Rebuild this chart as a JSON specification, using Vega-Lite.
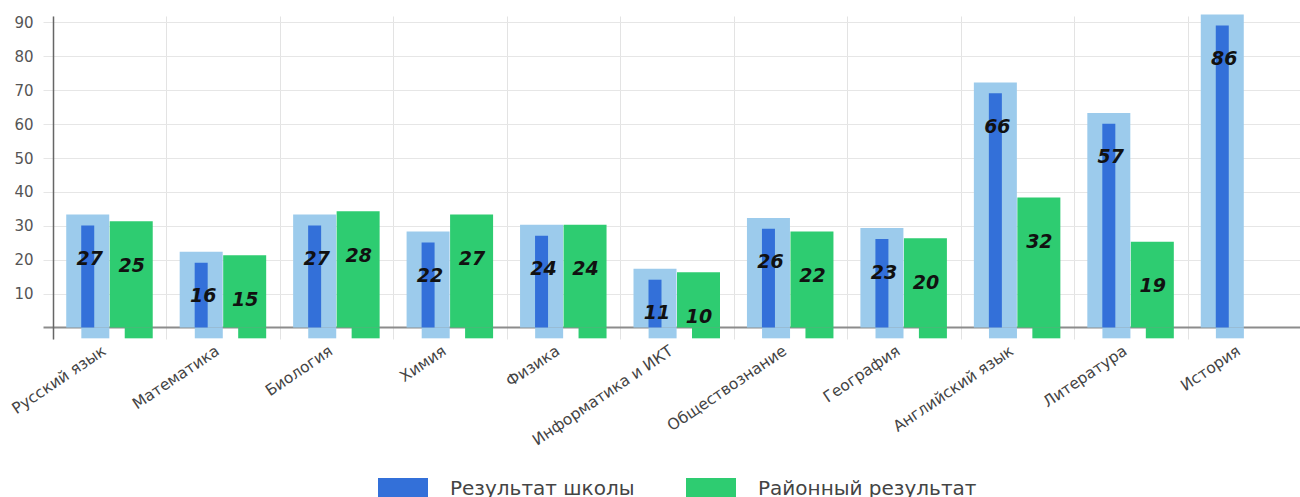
{
  "$schema": "https://vega.github.io/schema/vega-lite/v6.json",
  "width": 1248,
  "height": 323,
  "autosize": "none",
  "padding": {"left": 53, "top": 16, "right": 0, "bottom": 158},
  "background": "white",
  "config": {"view": {"stroke": null}, "font": "DejaVu Sans"},
  "data": {
    "values": [
      {"subject": "Русский язык", "school": 27, "district": 25},
      {"subject": "Математика", "school": 16, "district": 15},
      {"subject": "Биология", "school": 27, "district": 28},
      {"subject": "Химия", "school": 22, "district": 27},
      {"subject": "Физика", "school": 24, "district": 24},
      {"subject": "Информатика и ИКТ", "school": 11, "district": 10},
      {"subject": "Обществознание", "school": 26, "district": 22},
      {"subject": "География", "school": 23, "district": 20},
      {"subject": "Английский язык", "school": 66, "district": 32},
      {"subject": "Литература", "school": 57, "district": 19},
      {"subject": "История", "school": 86, "district": null}
    ]
  },
  "encoding": {
    "x": {
      "field": "subject",
      "type": "nominal",
      "sort": null,
      "scale": {"paddingInner": 0, "paddingOuter": 0},
      "axis": {
        "title": null,
        "labelAngle": -34,
        "tickBand": "extent",
        "grid": true,
        "gridColor": "#e3e3e3",
        "gridWidth": 1,
        "ticks": false,
        "domain": false,
        "labelFont": "DejaVu Sans",
        "labelFontSize": 15.5,
        "labelColor": "#444444",
        "labelPadding": 4,
        "labelOffset": -10,
        "labelLimit": 300,
        "labelOverlap": false
      }
    }
  },
  "layer": [
    {
      "mark": {"type": "bar", "color": "#9ccbec", "width": 43, "xOffset": -22, "yOffset": -21.4},
      "encoding": {
        "y": {
          "field": "school",
          "type": "quantitative",
          "scale": {"domain": [-3.4, 91.9], "nice": false, "zero": false},
          "axis": {
            "title": null,
            "tickCount": 10,
            "labelExpr": "datum.value == 0 ? '' : datum.label",
            "labelOverlap": false,
            "grid": true,
            "gridColor": {"condition": {"test": "datum.value === 0", "value": "#8c8c8c"}, "value": "#e6e6e6"},
            "gridWidth": {"condition": {"test": "datum.value === 0", "value": 2}, "value": 1},
            "tickColor": {"condition": {"test": "datum.value === 0", "value": "#8c8c8c"}, "value": "#e6e6e6"},
            "tickWidth": {"condition": {"test": "datum.value === 0", "value": 2}, "value": 1},
            "tickSize": 10,
            "domainColor": "#666666",
            "domainWidth": 1.5,
            "labelFont": "DejaVu Sans",
            "labelFontSize": 15,
            "labelColor": "#555555",
            "labelPadding": 10
          }
        },
        "y2": {"datum": 0}
      }
    },
    {
      "mark": {"type": "bar", "color": "#9ccbec", "width": 28, "xOffset": -14.4},
      "encoding": {"y": {"datum": 0}, "y2": {"datum": -3.2}}
    },
    {
      "mark": {"type": "bar", "width": 13, "xOffset": -22, "yOffset": -10.5},
      "encoding": {
        "y": {"field": "school", "type": "quantitative"},
        "y2": {"datum": 0},
        "color": {
          "datum": "Результат школы",
          "scale": {"domain": ["Результат школы", "Районный результат"], "range": ["#3370d9", "#2ecc71"]},
          "legend": {
            "orient": "none",
            "legendX": 325,
            "legendY": 448,
            "direction": "horizontal",
            "title": null,
            "symbolType": "M-1,-0.44H1V0.44H-1Z",
            "symbolSize": 2500,
            "symbolStrokeWidth": 0,
            "symbolOpacity": 1,
            "labelFont": "DejaVu Sans",
            "labelFontSize": 20,
            "labelColor": "#444444",
            "labelOffset": 22,
            "labelLimit": 400,
            "columnPadding": 51,
            "padding": 0
          }
        }
      }
    },
    {
      "transform": [{"filter": "datum.district != null"}],
      "mark": {"type": "bar", "width": 43, "xOffset": 21.5, "yOffset": -21.4},
      "encoding": {
        "y": {"field": "district", "type": "quantitative"},
        "y2": {"datum": 0},
        "color": {
          "datum": "Районный результат",
          "legend": {
            "orient": "none",
            "legendX": 325,
            "legendY": 448,
            "direction": "horizontal",
            "title": null,
            "symbolType": "M-1,-0.44H1V0.44H-1Z",
            "symbolSize": 2500,
            "symbolStrokeWidth": 0,
            "symbolOpacity": 1,
            "labelFont": "DejaVu Sans",
            "labelFontSize": 20,
            "labelColor": "#444444",
            "labelOffset": 22,
            "labelLimit": 400,
            "columnPadding": 51,
            "padding": 0
          }
        }
      }
    },
    {
      "transform": [{"filter": "datum.district != null"}],
      "mark": {"type": "bar", "color": "#2ecc71", "width": 28, "xOffset": 29},
      "encoding": {"y": {"datum": 0}, "y2": {"datum": -3.2}}
    },
    {
      "mark": {"type": "text", "font": "DejaVu Sans", "fontSize": 19, "fontStyle": "italic", "fontWeight": "bold", "color": "#111111", "xOffset": -20, "dy": 23, "baseline": "middle"},
      "encoding": {
        "y": {"field": "school", "type": "quantitative"},
        "text": {"field": "school", "type": "quantitative"}
      }
    },
    {
      "transform": [{"filter": "datum.district != null"}],
      "mark": {"type": "text", "font": "DejaVu Sans", "fontSize": 19, "fontStyle": "italic", "fontWeight": "bold", "color": "#111111", "xOffset": 22, "dy": 23, "baseline": "middle"},
      "encoding": {
        "y": {"field": "district", "type": "quantitative"},
        "text": {"field": "district", "type": "quantitative"}
      }
    }
  ]
}
